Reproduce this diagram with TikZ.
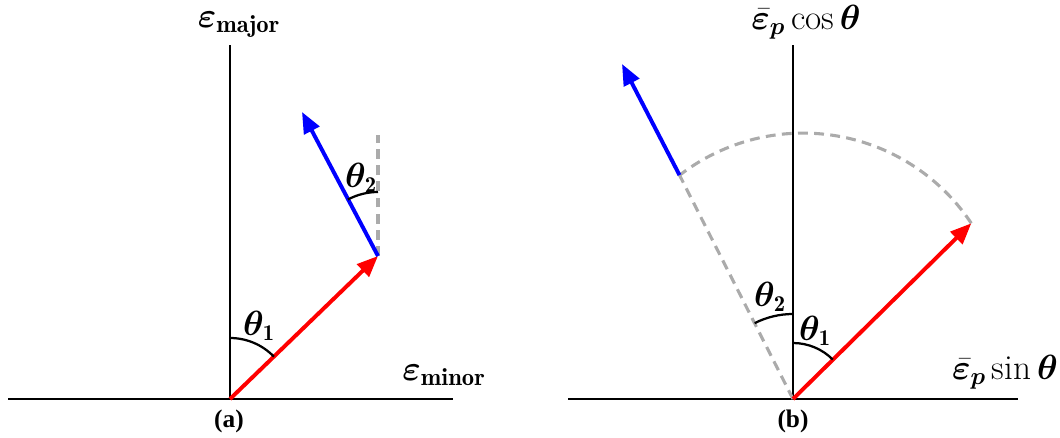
\documentclass[tikz,border=0pt]{standalone}
\usepackage{amsmath,bm}
\usepackage{fontspec}
\newfontfamily\capfont{Liberation Serif}
\usetikzlibrary{arrows.meta, positioning}

\begin{document}
\begin{tikzpicture}[x=0.025cm, y=0.025cm,
    axis/.style={draw=black, line width=0.9pt},
    vecline/.style={line width=2.8pt, -{Triangle[length=15pt, width=12pt]}},
    guide/.style={draw=black!33, line width=2.2pt, dash pattern=on 7pt off 4.5pt},
    angarc/.style={draw=black, line width=1.6pt},
    axlabel/.style={font=\fontsize{25}{30}\selectfont, inner sep=0pt},
    anglabel/.style={font=\fontsize{23}{27}\selectfont, inner sep=0pt},
    caption/.style={font=\capfont\bfseries\fontsize{18}{21}\selectfont, inner sep=0pt}]
    \useasboundingbox (0,0) rectangle (1060,437);

    \coordinate (Oa) at (230,38);
    \coordinate (xa0) at (8,38);
    \coordinate (xa1) at (453,38);
    \coordinate (ya1) at (230,392);
    \coordinate (Pa) at (378,181);
    \coordinate (Qa) at (302,325);
    \coordinate (Ga) at (378,302);
    \draw[axis] (xa0) -- (xa1);
    \draw[axis] (Oa) -- (ya1);
    \draw[guide] (Pa) -- (Ga);
    \draw[vecline, red] (Oa) -- (Pa);
    \draw[vecline, blue] (Pa) -- (Qa);
    \draw[angarc] ([shift={(90:61)}]Oa) arc[start angle=90, end angle=44, radius=61];
    \draw[angarc] ([shift={(90:64)}]Pa) arc[start angle=90, end angle=118, radius=64];
    \node[axlabel] (majlbl) at (239,412) {$\bm{\varepsilon}_{\mathbf{major}}$};
    \node[axlabel] (minlbl) at (444,62) {$\bm{\varepsilon}_{\mathbf{minor}}$};
    \node[anglabel] (thaa) at (259,111) {$\bm{\theta}_{\mathbf{1}}$};
    \node[anglabel] (thab) at (361,259) {$\bm{\theta}_{\mathbf{2}}$};
    \node[caption] (capa) at (229,16) {(a)};

    \coordinate (Ob) at (793,38);
    \coordinate (xb0) at (568,38);
    \coordinate (xb1) at (1018,38);
    \coordinate (yb1) at (793,392);
    \coordinate (Pb) at (971.3,213.7);
    \coordinate (Rb) at (679.5,261.9);
    \coordinate (Qb) at (622,373);
    \draw[axis] (xb0) -- (xb1);
    \draw[axis] (Ob) -- (yb1);
    \draw[guide] (Pb) arc[start angle=33.6, end angle=127.7, radius=202];
    \draw[guide] (Ob) -- (Rb);
    \draw[vecline, red] (Ob) -- (Pb);
    \draw[vecline, blue] (Rb) -- (Qb);
    \draw[angarc] ([shift={(90:56)}]Ob) arc[start angle=90, end angle=44.7, radius=56];
    \draw[angarc] ([shift={(90:85)}]Ob) arc[start angle=90, end angle=116.8, radius=85];
    \node[axlabel] (coslbl) at (806,415) {$\bar{\bm{\varepsilon}}_{\bm{p}}\cos\bm{\theta}$};
    \node[axlabel] (sinlbl) at (1005,65) {$\bar{\bm{\varepsilon}}_{\bm{p}}\sin\bm{\theta}$};
    \node[anglabel] (thba) at (815,106) {$\bm{\theta}_{\mathbf{1}}$};
    \node[anglabel] (thbb) at (770,140) {$\bm{\theta}_{\mathbf{2}}$};
    \node[caption] (capb) at (793,16) {(b)};
\end{tikzpicture}
\end{document}
